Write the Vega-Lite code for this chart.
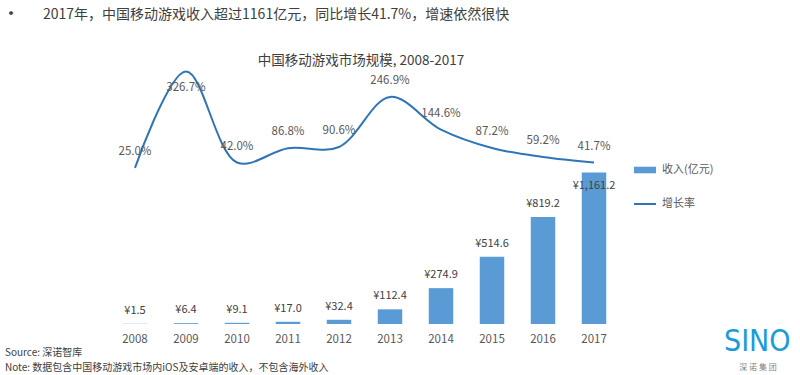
{
  "$schema": "https://vega.github.io/schema/vega-lite/v6.json",
  "width": 509,
  "height": 274,
  "autosize": {"type": "none"},
  "padding": {"left": 110, "top": 50, "right": 181, "bottom": 51},
  "background": "white",
  "config": {
    "view": {"stroke": null},
    "font": "Noto Sans CJK SC",
    "locale": {"number": {"decimal": ".", "thousands": ",", "grouping": [3], "currency": ["¥", ""]}},
    "legend": {"padding": 0, "labelFont": "Noto Sans CJK SC", "labelFontSize": 11, "labelColor": "#595959"}
  },
  "data": {
    "values": [
      {"year": "2008", "revenue": 1.5, "growth": 0.250},
      {"year": "2009", "revenue": 6.4, "growth": 3.267},
      {"year": "2010", "revenue": 9.1, "growth": 0.420},
      {"year": "2011", "revenue": 17.0, "growth": 0.868},
      {"year": "2012", "revenue": 32.4, "growth": 0.906},
      {"year": "2013", "revenue": 112.4, "growth": 2.469},
      {"year": "2014", "revenue": 274.9, "growth": 1.446},
      {"year": "2015", "revenue": 514.6, "growth": 0.872},
      {"year": "2016", "revenue": 819.2, "growth": 0.592},
      {"year": "2017", "revenue": 1161.2, "growth": 0.417}
    ]
  },
  "encoding": {
    "x": {
      "field": "year",
      "type": "nominal",
      "sort": null,
      "scale": {"paddingInner": 0.52, "paddingOuter": 0.25},
      "axis": {"title": null, "domain": false, "ticks": false, "labelAngle": 0, "labelPadding": 9, "labelFontSize": 11.5, "labelColor": "#595959", "labelFont": "Noto Sans CJK SC"}
    }
  },
  "layer": [
    {
      "mark": {"type": "bar"},
      "encoding": {
        "y": {"field": "revenue", "type": "quantitative", "scale": {"domain": [0, 2100]}, "axis": null},
        "fill": {"datum": "收入(亿元)", "type": "nominal", "scale": {"range": ["#5B9BD5"]},
          "legend": {"title": null, "orient": "none", "legendX": 523, "legendY": 108, "symbolType": "M-1,-0.3H1V0.3H-1Z", "symbolSize": 484, "labelOffset": 5}}
      }
    },
    {
      "transform": [{"filter": "datum.year != '2017'"}],
      "mark": {"type": "text", "dy": -13, "fontSize": 11, "color": "#404040", "baseline": "middle"},
      "encoding": {
        "y": {"field": "revenue", "type": "quantitative", "scale": {"domain": [0, 2100]}, "axis": null},
        "text": {"field": "revenue", "type": "quantitative", "format": "$,.1f"}
      }
    },
    {
      "transform": [{"filter": "datum.year == '2017'"}],
      "mark": {"type": "text", "dy": 14, "fontSize": 11, "color": "#404040", "baseline": "middle"},
      "encoding": {
        "y": {"field": "revenue", "type": "quantitative", "scale": {"domain": [0, 2100]}, "axis": null},
        "text": {"field": "revenue", "type": "quantitative", "format": "$,.1f"}
      }
    },
    {
      "mark": {"type": "line", "interpolate": "catmull-rom", "strokeWidth": 2},
      "encoding": {
        "y": {"field": "growth", "type": "quantitative", "scale": {"domain": [-4.625, 3.935]}, "axis": null},
        "stroke": {"datum": "增长率", "type": "nominal", "scale": {"range": ["#2F75B5"]},
          "legend": {"title": null, "orient": "none", "legendX": 523, "legendY": 142, "symbolType": "stroke", "symbolSize": 484, "symbolStrokeWidth": 2, "labelOffset": 5}}
      }
    },
    {
      "transform": [{"filter": "datum.year != '2009'"}],
      "mark": {"type": "text", "dy": -16, "fontSize": 11.5, "color": "#595959", "baseline": "middle"},
      "encoding": {
        "y": {"field": "growth", "type": "quantitative", "scale": {"domain": [-4.625, 3.935]}, "axis": null},
        "text": {"field": "growth", "type": "quantitative", "format": ".1%"}
      }
    },
    {
      "transform": [{"filter": "datum.year == '2009'"}],
      "mark": {"type": "text", "dy": 17, "fontSize": 11.5, "color": "#595959", "baseline": "middle"},
      "encoding": {
        "y": {"field": "growth", "type": "quantitative", "scale": {"domain": [-4.625, 3.935]}, "axis": null},
        "text": {"field": "growth", "type": "quantitative", "format": ".1%"}
      }
    },
    {
      "data": {"values": [{}]},
      "mark": {"type": "text", "text": "•", "fontSize": 18, "color": "#404040", "align": "center", "baseline": "middle"},
      "encoding": {"x": {"value": -99}, "y": {"value": -35}}
    },
    {
      "data": {"values": [{}]},
      "mark": {"type": "text", "text": "2017年，中国移动游戏收入超过1161亿元，同比增长41.7%，增速依然很快", "fontSize": 14, "color": "#404040", "align": "left", "baseline": "middle"},
      "encoding": {"x": {"value": -67}, "y": {"value": -35}}
    },
    {
      "data": {"values": [{}]},
      "mark": {"type": "text", "text": "中国移动游戏市场规模, 2008-2017", "fontSize": 13.5, "color": "#404040", "align": "center", "baseline": "middle"},
      "encoding": {"x": {"value": 251}, "y": {"value": 11}}
    },
    {
      "data": {"values": [{}]},
      "mark": {"type": "text", "text": "Source: 深诺智库", "fontSize": 10, "color": "#404040", "align": "left", "baseline": "middle"},
      "encoding": {"x": {"value": -105}, "y": {"value": 302.5}}
    },
    {
      "data": {"values": [{}]},
      "mark": {"type": "text", "text": "Note: 数据包含中国移动游戏市场内iOS及安卓端的收入，不包含海外收入", "fontSize": 10, "color": "#404040", "align": "left", "baseline": "middle"},
      "encoding": {"x": {"value": -105}, "y": {"value": 317.5}}
    },
    {
      "data": {"values": [{}]},
      "mark": {"type": "text", "text": "SINO", "font": "DejaVu Sans Condensed, Roboto", "fontSize": 30, "color": "#1A9CD8", "align": "left", "baseline": "middle"},
      "encoding": {"x": {"value": 614}, "y": {"value": 292}}
    },
    {
      "data": {"values": [{}]},
      "mark": {"type": "text", "text": "深 诺 集 团", "fontSize": 8, "color": "#7F7F7F", "align": "center", "baseline": "middle"},
      "encoding": {"x": {"value": 648}, "y": {"value": 318}}
    }
  ],
  "resolve": {"scale": {"y": "independent"}}
}
